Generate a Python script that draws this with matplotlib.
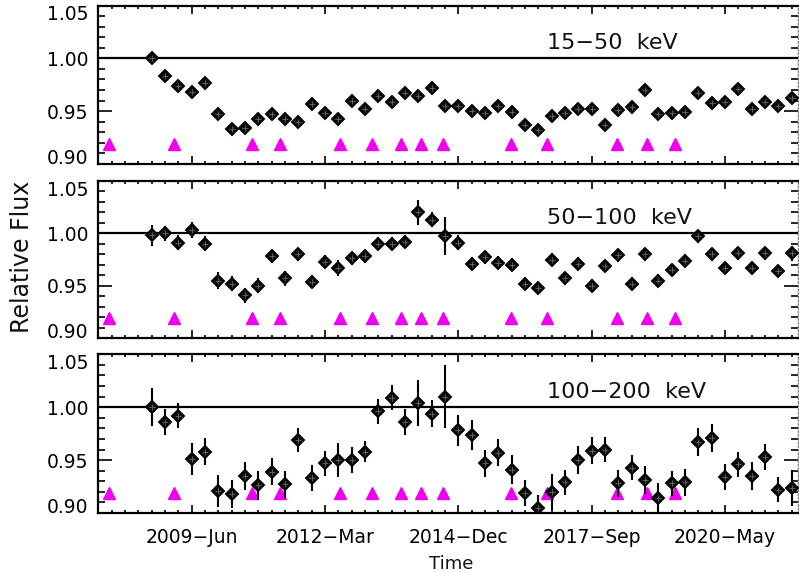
import matplotlib
matplotlib.use('Agg')
import matplotlib.pyplot as plt
from matplotlib.ticker import FixedLocator, MultipleLocator

plt.rcParams['font.family'] = ['DejaVu Sans']

# ---------------- data ----------------
mjd = [54700, 54800, 54900, 55000, 55100, 55200, 55300, 55400, 55500, 55600,
       55700, 55800, 55900, 56000, 56100, 56200, 56300, 56400, 56500, 56600,
       56700, 56800, 56900, 57000, 57100, 57200, 57300, 57400, 57500, 57600,
       57700, 57800, 57900, 58000, 58100, 58200, 58300, 58400, 58500, 58600,
       58700, 58800, 58900, 59000, 59100, 59200, 59300, 59400, 59500]

flux_15_50 = [1.000, 0.983, 0.974, 0.968, 0.977, 0.947, 0.933, 0.934, 0.943, 0.947,
              0.943, 0.940, 0.957, 0.948, 0.943, 0.960, 0.952, 0.964, 0.959, 0.967,
              0.964, 0.972, 0.955, 0.955, 0.950, 0.948, 0.955, 0.949, 0.937, 0.932,
              0.945, 0.948, 0.952, 0.952, 0.937, 0.951, 0.954, 0.970, 0.947, 0.948,
              0.949, 0.967, 0.958, 0.959, 0.971, 0.952, 0.959, 0.955, 0.962]
err_15_50 = [0.003, 0.003, 0.003, 0.003, 0.003, 0.003, 0.003, 0.003, 0.003, 0.003,
             0.003, 0.003, 0.003, 0.003, 0.003, 0.003, 0.003, 0.003, 0.003, 0.003,
             0.003, 0.003, 0.003, 0.003, 0.003, 0.003, 0.003, 0.003, 0.003, 0.003,
             0.003, 0.003, 0.003, 0.003, 0.003, 0.003, 0.003, 0.003, 0.003, 0.003,
             0.003, 0.003, 0.003, 0.003, 0.003, 0.003, 0.003, 0.003, 0.003]

flux_50_100 = [0.998, 1.000, 0.991, 1.003, 0.990, 0.955, 0.952, 0.941, 0.950, 0.978,
               0.957, 0.980, 0.954, 0.973, 0.967, 0.976, 0.978, 0.990, 0.990, 0.992,
               1.020, 1.013, 0.997, 0.991, 0.971, 0.977, 0.972, 0.970, 0.952, 0.948,
               0.975, 0.957, 0.971, 0.950, 0.969, 0.979, 0.952, 0.980, 0.955, 0.965,
               0.974, 0.997, 0.980, 0.967, 0.981, 0.967, 0.981, 0.964, 0.981]
err_50_100 = [0.010, 0.007, 0.007, 0.008, 0.007, 0.008, 0.007, 0.007, 0.007, 0.006,
              0.007, 0.006, 0.006, 0.006, 0.008, 0.006, 0.006, 0.006, 0.006, 0.006,
              0.012, 0.007, 0.018, 0.007, 0.006, 0.006, 0.006, 0.006, 0.006, 0.006,
              0.006, 0.006, 0.006, 0.006, 0.006, 0.006, 0.006, 0.006, 0.006, 0.006,
              0.006, 0.006, 0.006, 0.006, 0.006, 0.006, 0.006, 0.006, 0.007]

flux_100_200 = [1.000, 0.986, 0.992, 0.951, 0.958, 0.921, 0.918, 0.935, 0.926, 0.939,
                0.927, 0.969, 0.933, 0.947, 0.950, 0.950, 0.958, 0.996, 1.009, 0.986,
                1.004, 0.994, 1.010, 0.978, 0.974, 0.947, 0.957, 0.941, 0.919, 0.905,
                0.920, 0.929, 0.950, 0.959, 0.960, 0.928, 0.943, 0.931, 0.914, 0.928,
                0.929, 0.967, 0.971, 0.934, 0.946, 0.935, 0.953, 0.922, 0.924]
err_100_200 = [0.018, 0.012, 0.012, 0.015, 0.013, 0.015, 0.013, 0.013, 0.014, 0.013,
               0.013, 0.011, 0.012, 0.012, 0.016, 0.012, 0.010, 0.012, 0.012, 0.012,
               0.022, 0.013, 0.030, 0.015, 0.014, 0.013, 0.013, 0.014, 0.012, 0.012,
               0.017, 0.012, 0.013, 0.013, 0.012, 0.013, 0.012, 0.013, 0.014, 0.012,
               0.013, 0.013, 0.013, 0.012, 0.012, 0.013, 0.012, 0.012, 0.017]

event_mjd = [54380, 54868, 55456, 55663, 56113, 56356, 56573, 56723, 56888,
             57398, 57663, 58193, 58413, 58623]
event_level = [0.919, 0.919, 0.919, 0.919, 0.919, 0.919, 0.919, 0.919, 0.919,
               0.919, 0.919, 0.919, 0.919, 0.919]

band_labels = ["15\u221250  keV", "50\u2212100  keV", "100\u2212200  keV"]
xtick_values = [55000, 56000, 57000, 58000, 59000]
xtick_labels = ["2009\u2212Jun", "2012\u2212Mar", "2014\u2212Dec", "2017\u2212Sep", "2020\u2212May"]
ytick_values = [0.90, 0.95, 1.00, 1.05]
ytick_labels = ["0.90", "0.95", "1.00", "1.05"]

series = [(flux_15_50, err_15_50), (flux_50_100, err_50_100), (flux_100_200, err_100_200)]

# ---------------- layout ----------------
W, H = 799, 573
fig = plt.figure(figsize=(W / 100, H / 100), dpi=100)
panel_px = [(5.5, 164.0), (180.7, 338.3), (354.3, 513.0)]  # (top, bottom) in pixels
x_left, x_right = 98.3, 798.3

for i, ((flux, err), (ptop, pbot)) in enumerate(zip(series, panel_px)):
    ax = fig.add_axes([x_left / W, 1 - pbot / H, (x_right - x_left) / W, (pbot - ptop) / H])
    ax.set_xlim(54300, 59550)
    ax.set_ylim(0.90, 1.05)

    ax.axhline(1.0, color='black', lw=1.6, zorder=1)

    ax.errorbar(mjd, flux, yerr=err, fmt='none', ecolor='black', elinewidth=1.5,
                capsize=0, zorder=3)
    ax.plot(mjd, flux, linestyle='none', marker='D', ms=6.0, mfc='#0d0d0d',
            mec='black', mew=1.4, zorder=4)
    ax.plot(mjd, flux, linestyle='none', marker='+', ms=5.0, color='#6a6a6a',
            mew=0.6, zorder=5)

    ax.plot(event_mjd, event_level, linestyle='none', marker='^', ms=8,
            color='#f000f0', mec='#f000f0', zorder=2)

    ax.text(57665, 1.009, band_labels[i], fontsize=16, ha='left', va='baseline',
            color='#111111')

    # ticks
    ax.xaxis.set_major_locator(FixedLocator(xtick_values))
    ax.xaxis.set_minor_locator(MultipleLocator(100))
    ax.set_yticks(ytick_values, labels=ytick_labels)
    ax.yaxis.set_minor_locator(MultipleLocator(0.01))
    ax.tick_params(which='both', direction='in', top=True, right=True,
                   color='black', width=1.2)
    ax.tick_params(axis='y', which='major', length=10, labelsize=13.5, pad=7)
    ax.tick_params(axis='y', which='minor', length=5)
    ax.tick_params(axis='x', which='major', length=5.5, labelsize=13.5, pad=11)
    ax.tick_params(axis='x', which='minor', length=2.5)

    yt = ax.yaxis.get_major_ticks()
    yt[0].label1.set_va('baseline')
    yt[-1].label1.set_va('top')

    if i < 2:
        ax.set_xticks(xtick_values, labels=['', '', '', '', ''])
    else:
        ax.set_xticks(xtick_values, labels=xtick_labels)

    for side in ('left', 'top', 'bottom'):
        ax.spines[side].set_linewidth(1.6)
    ax.spines['right'].set_linewidth(1.0)
    ax.spines['right'].set_linestyle(':')
    ax.spines['right'].set_color('#777777')

fig.text(22 / W, 1 - 257 / H, "Relative Flux", rotation=90, fontsize=17,
         ha='center', va='center', color='#111111')
fig.text(451 / W, 1 - 564 / H, "Time", fontsize=13, ha='center', va='center',
         color='#111111')

fig.savefig('out.png', dpi=100)
